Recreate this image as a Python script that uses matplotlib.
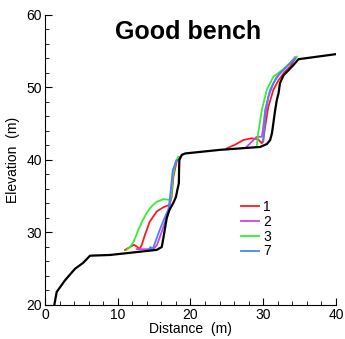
import numpy as np
import matplotlib.pyplot as plt

plt.rcParams['font.family'] = ['Liberation Sans', 'DejaVu Sans']

# ground profile (black)
ground_x = [1.28, 1.61, 2.75, 4.13, 5.23, 6.19, 8.94, 15.36, 16.05, 16.27, 16.5, 16.74, 17.1, 17.65,
            18.0, 18.2, 18.4, 18.43, 18.47, 18.8, 19.26, 24.07, 29.57, 30.5, 30.95, 31.2, 31.64,
            31.87, 32.1, 32.3, 32.8, 33.5, 34.15, 34.84, 40.0]
ground_y = [20.0, 21.8, 23.4, 25.0, 25.8, 26.8, 26.9, 27.6, 28.0, 29.2, 30.6, 32.0, 33.1, 34.1,
            34.9, 35.9, 36.8, 38.6, 40.0, 40.7, 40.9, 41.4, 41.8, 42.2, 42.76, 43.7, 46.9,
            48.3, 49.2, 50.6, 51.7, 52.4, 53.1, 53.9, 54.6]

nan = np.nan
# run 1 (red)
r1_x = [11.0, 11.7, 12.24, 12.7, 12.97, 13.3, 13.75, 14.4, 15.36, 16.3, 17.1, 17.4, 17.65, 18.1, 18.6, nan,
        25.0, 26.1, 27.3, 28.4, 29.3, 29.8, 30.0, 30.26, 30.7, 31.4, 32.1, 32.8, 33.7, 34.4]
r1_y = [27.6, 28.0, 28.3, 28.0, 27.7, 28.3, 29.7, 31.5, 32.9, 33.5, 33.8, 34.9, 37.7, 39.8, 40.45, nan,
        41.6, 42.1, 42.76, 43.0, 42.85, 42.3, 42.76, 44.6, 47.35, 49.7, 51.0, 51.96, 52.9, 54.0]
# run 2 (violet)
r2_x = [12.6, 14.9, 15.4, 16.05, 16.74, 17.2, 17.4, 17.65, 18.1, nan,
        27.7, 28.4, 29.1, 29.8, 29.95, 30.26, 30.95, 31.87, 32.8, 34.4]
r2_y = [27.7, 27.7, 28.3, 30.1, 32.2, 34.0, 36.3, 38.6, 40.0, nan,
        41.8, 42.5, 43.2, 43.2, 44.1, 46.9, 49.7, 51.5, 52.4, 54.2]
# run 3 (green)
r3_x = [11.24, 11.7, 12.15, 12.5, 12.8, 13.2, 13.6, 14.0, 14.4, 14.9, 15.4, 16.3, 17.2, 17.4, 17.56, 17.9, 18.3, nan,
        29.1, 29.3, 29.8, 30.5, 31.4, 32.6, 34.6]
r3_y = [27.6, 28.0, 28.7, 29.5, 30.3, 31.2, 32.0, 32.7, 33.3, 33.85, 34.25, 34.6, 34.5, 35.4, 37.7, 39.5, 40.45, nan,
        41.8, 43.7, 46.9, 49.7, 51.5, 52.4, 54.25]
# run 7 (blue)
r7_x = [14.2, 14.5, 14.8, 15.1, 15.6, 16.3, 17.0, 17.3, 17.56, 18.1, nan,
        30.0, 30.26, 30.7, 31.4, 32.3, 34.4]
r7_y = [27.6, 28.0, 27.7, 28.5, 29.9, 31.7, 33.3, 35.9, 38.6, 40.0, nan,
        42.5, 46.0, 48.7, 50.6, 52.0, 54.0]

labels = ['1', '2', '3', '7']
colors = ['#ff1a1a', '#cc44dd', '#33ee33', '#4d7fff']

fig = plt.figure(figsize=(3.45, 3.39), dpi=100)
ax = fig.add_axes([0.1304, 0.1003, 0.8435, 0.8555])

for xs, ys, lab, c in zip([r1_x, r2_x, r3_x, r7_x], [r1_y, r2_y, r3_y, r7_y], labels, colors):
    ax.plot(xs, ys, color=c, lw=1.3, label=lab)
ax.plot(ground_x, ground_y, color='black', lw=1.6)

ax.set_xlim(0, 40)
ax.set_ylim(20, 60)
ax.set_xticks([0, 10, 20, 30, 40])
ax.set_yticks([20, 30, 40, 50, 60])
ax.set_xticks(np.arange(0, 41, 2), minor=True)
ax.set_yticks(np.arange(20, 61, 2), minor=True)
ax.tick_params(which='both', direction='in', labelsize=10, pad=2)
ax.tick_params(which='major', length=5)
ax.tick_params(which='minor', length=3)
for s in ['top', 'right']:
    ax.spines[s].set_visible(False)

ax.set_xlabel('Distance  (m)', fontsize=10, labelpad=0)
ax.set_ylabel('Elevation  (m)', fontsize=10, labelpad=5)
ax.text(0.49, 0.94, 'Good bench', transform=ax.transAxes, ha='center', va='center',
        fontsize=18, fontweight='bold')

ax.legend(loc='upper left', bbox_to_anchor=(0.655, 0.38), frameon=False, fontsize=10,
          handlelength=1.27, handletextpad=0.32, labelspacing=0.05, borderaxespad=0)

fig.savefig('out.png', dpi=100)
